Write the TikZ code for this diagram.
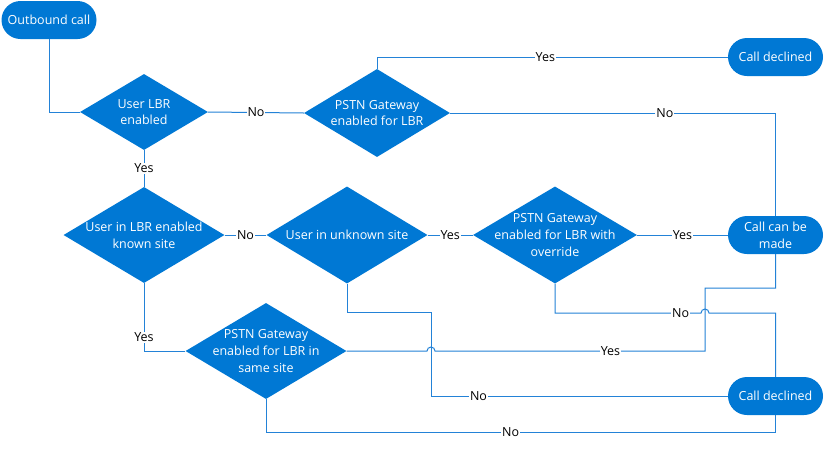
\documentclass[tikz,border=0pt]{standalone}
\usepackage{fontspec}
\setmainfont{Open Sans}
\usetikzlibrary{shapes.geometric}
\definecolor{msblue}{RGB}{0,120,212}
\definecolor{lineblue}{RGB}{35,130,215}
\tikzset{
  dia/.style={diamond, fill=msblue, draw=none, inner sep=0pt},
  txt/.style={text=white, align=center, inner sep=0pt, font=\fontsize{12.5}{16.7}\selectfont},
  term/.style={rectangle, rounded corners=19pt, fill=msblue, minimum width=95pt, minimum height=38pt,
    text=white, align=center, inner sep=0pt, font=\fontsize{12.5}{16.7}\selectfont},
  lbl/.style={fill=white, text=black, inner sep=1pt, font=\fontsize{12.5}{14}\selectfont},
  flow/.style={draw=lineblue, line width=1pt},
}
\begin{document}
\begin{tikzpicture}[x=1pt,y=1pt]
\fill[white] (0,0) rectangle (824,-448);
\useasboundingbox (0,0) rectangle (824,-448);

% terminals
\node[term] (ob)  at (49,-20)   {Outbound call};
\node[term] (cd1) at (775.5,-57) {Call declined};
\node[term] (ccm) at (775.5,-235) {Call can be\\made};
\node[term] (cd2) at (775.5,-396) {Call declined};

% decisions
\node[dia, minimum width=128pt, minimum height=76pt] (d1) at (144,-112) {};
\node[txt] (t1) at (d1) {User LBR\\enabled};
\node[dia, minimum width=146pt, minimum height=88pt] (d2) at (377,-113) {};
\node[txt] (t2) at (d2) {PSTN Gateway\\enabled for LBR};
\node[dia, minimum width=161pt, minimum height=96pt] (d3) at (144,-235) {};
\node[txt] (t3) at (d3) {User in LBR enabled\\known site};
\node[dia, minimum width=161pt, minimum height=97pt] (d4) at (347,-235) {};
\node[txt] (t4) at (d4) {User in unknown site};
\node[dia, minimum width=164pt, minimum height=97pt] (d5) at (555,-235) {};
\node[txt] (t5) at (d5) {PSTN Gateway\\enabled for LBR with\\override};
\node[dia, minimum width=161pt, minimum height=96pt] (d6) at (266,-351) {};
\node[txt] (t6) at (d6) {PSTN Gateway\\enabled for LBR in\\same site};

% helper coordinates
\coordinate (k1) at (431,-312);
\coordinate (j1) at (k1 |- d6.east);
\coordinate (b1) at (705,-288);
\coordinate (j2) at (705,-313);
\coordinate (bot) at (775.5,-432);

% connectors
\draw[flow] (ob.south) |- (d1.west);
\draw[flow] (d1.east) -- node[lbl]{No} (d2.west);
\draw[flow] (d2.north) |- node[lbl,pos=0.74]{Yes} (cd1.west);
\draw[flow] (d2.east) -| node[lbl,pos=0.33]{No} (ccm.north);
\draw[flow] (d1.south) -- node[lbl]{Yes} (d3.north);
\draw[flow] (d3.east) -- node[lbl]{No} (d4.west);
\draw[flow] (d4.east) -- node[lbl]{Yes} (d5.west);
\draw[flow] (d5.east) -- node[lbl]{Yes} (ccm.west);
\draw[flow] (d3.south) |- node[lbl,pos=0.4]{Yes} (d6.west);
\draw[flow] (d6.east) -- ([xshift=-4pt]j1) arc[start angle=180,end angle=0,radius=4pt]
  -- node[lbl,pos=0.65]{Yes} (b1 |- j1) -- (b1) -| (ccm.south);
\draw[flow] (d4.south) |- (k1) |- node[lbl,pos=0.58]{No} (cd2.west);
\draw[flow] (d5.south) -- (d5.south |- j2) -- node[lbl,pos=0.86]{No} ([xshift=-4pt]j2)
  arc[start angle=180,end angle=0,radius=4pt] -- (cd2.north |- j2) -- (cd2.north);
\draw[flow] (d6.south) |- node[lbl,pos=0.74]{No} (bot) -- (cd2.south);
\end{tikzpicture}
\end{document}
